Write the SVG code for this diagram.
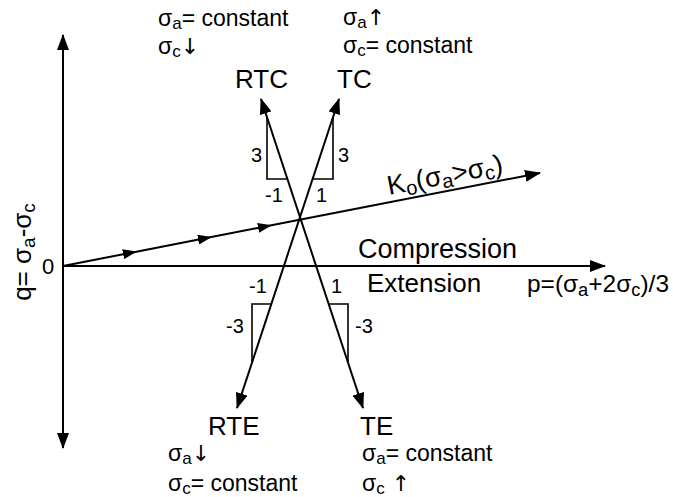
<svg xmlns="http://www.w3.org/2000/svg" width="673" height="497" viewBox="0 0 673 497">
<style>
  text { font-family: "Liberation Sans", Arial, sans-serif; fill: #000; }
  .cond { font-size: 23px; }
  .node { font-size: 26px; }
  .num { font-size: 20px; }
  .big { font-size: 26px; }
  .arr { font-size: 22px; font-family: "DejaVu Sans", sans-serif; }
  .ln { stroke: #000; stroke-width: 2; fill: none; }
  .tri { stroke: #000; stroke-width: 1.6; fill: none; }
</style>
<defs>
  <marker id="ah" markerUnits="userSpaceOnUse" markerWidth="16" markerHeight="12" refX="15" refY="6" orient="auto-start-reverse">
    <path d="M0,0 L16,6 L0,12 Z" fill="#000"/>
  </marker>
  <marker id="am" markerUnits="userSpaceOnUse" markerWidth="14" markerHeight="10" refX="7" refY="5" orient="auto">
    <path d="M0,0 L14,5 L0,10 Z" fill="#000"/>
  </marker>
</defs>
<rect width="673" height="497" fill="#fff"/>

<g id="axes">
  <line class="ln" x1="63" y1="448" x2="63" y2="35" marker-start="url(#ah)" marker-end="url(#ah)"/>
  <line class="ln" x1="63" y1="266" x2="605" y2="266" marker-end="url(#ah)"/>
  <text x="42" y="274" font-size="22">0</text>
  <text class="big" transform="translate(31,252) rotate(-90)" text-anchor="middle">q= σ<tspan font-size="19" dy="4">a</tspan><tspan dy="-4">-σ</tspan><tspan font-size="19" dy="4">c</tspan></text>
  <text x="358" y="258" font-size="27">Compression</text>
  <text class="big" x="367" y="292">Extension</text>
  <text x="527" y="292" font-size="24" textLength="142" lengthAdjust="spacingAndGlyphs">p=(σ<tspan font-size="18" dy="4">a</tspan><tspan dy="-4">+2σ</tspan><tspan font-size="18" dy="4">c</tspan><tspan dy="-4">)/3</tspan></text>
</g>

<g id="connectors">
  <polyline class="ln" points="63,266 130,252.9 205,238.3 265,226.6 540,173" marker-mid="url(#am)" marker-end="url(#ah)"/>
  <line class="ln" x1="237" y1="408" x2="339" y2="99" marker-start="url(#ah)" marker-end="url(#ah)"/>
  <line class="ln" x1="363" y1="408" x2="261" y2="99" marker-start="url(#ah)" marker-end="url(#ah)"/>
</g>

<g id="ko-label">
  <text transform="translate(389,195) rotate(-11)" font-size="27">K<tspan font-size="20" dy="4">o</tspan><tspan dy="-4">(σ</tspan><tspan font-size="20" dy="4">a</tspan><tspan dy="-4">&gt;σ</tspan><tspan font-size="20" dy="4">c</tspan><tspan dy="-4">)</tspan></text>
</g>

<g id="slopes">
  <polyline class="tri" points="267,117 267,179 287,179"/>
  <polyline class="tri" points="313,179 333,179 333,117"/>
  <polyline class="tri" points="271,304 252,304 252,362"/>
  <polyline class="tri" points="329,304 348,304 348,362"/>
  <text class="num" x="251" y="162">3</text>
  <text class="num" x="265" y="202">-1</text>
  <text class="num" x="316" y="202">1</text>
  <text class="num" x="338" y="162">3</text>
  <text class="num" x="249" y="293">-1</text>
  <text class="num" x="331" y="293">1</text>
  <text class="num" x="226" y="333">-3</text>
  <text class="num" x="355" y="333">-3</text>
</g>

<g id="RTC">
  <text class="node" x="235" y="88">RTC</text>
  <text class="cond" x="158" y="26">σ<tspan font-size="17" dy="3">a</tspan><tspan dy="-3">= constant</tspan></text>
  <text class="cond" x="158" y="54">σ<tspan font-size="17" dy="3">c</tspan><tspan dy="-3" class="arr">↓</tspan></text>
</g>

<g id="TC">
  <text class="node" x="337" y="88">TC</text>
  <text class="cond" x="343" y="25">σ<tspan font-size="17" dy="3">a</tspan><tspan dy="-3" class="arr">↑</tspan></text>
  <text class="cond" x="343" y="53">σ<tspan font-size="17" dy="3">c</tspan><tspan dy="-3">= constant</tspan></text>
</g>

<g id="RTE">
  <text class="node" x="208" y="435">RTE</text>
  <text class="cond" x="168" y="461">σ<tspan font-size="17" dy="3">a</tspan><tspan dy="-3" class="arr">↓</tspan></text>
  <text class="cond" x="168" y="491">σ<tspan font-size="17" dy="3">c</tspan><tspan dy="-3">= constant</tspan></text>
</g>

<g id="TE">
  <text class="node" x="360" y="435">TE</text>
  <text class="cond" x="362" y="461">σ<tspan font-size="17" dy="3">a</tspan><tspan dy="-3">= constant</tspan></text>
  <text class="cond" x="362" y="491">σ<tspan font-size="17" dy="3">c</tspan><tspan dy="-3" class="arr"> ↑</tspan></text>
</g>
</svg>
